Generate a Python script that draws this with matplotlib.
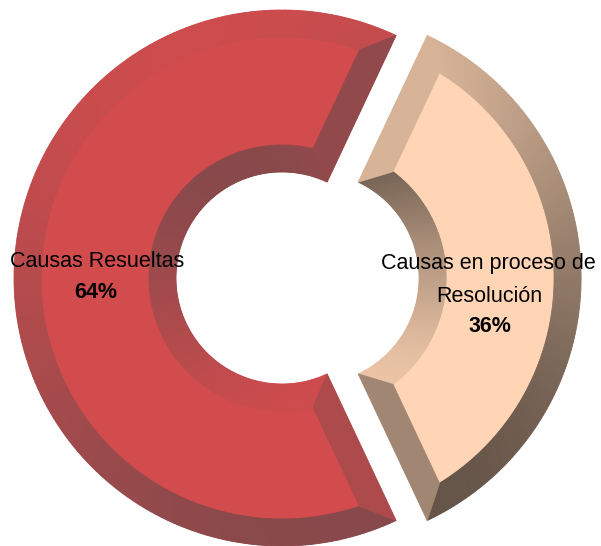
import numpy as np
import matplotlib
matplotlib.use("Agg")
import matplotlib.pyplot as plt
from matplotlib.patches import Polygon
from matplotlib import font_manager

# ---- data ----
categories = ["Causas Resueltas", "Causas en proceso de\nResolución"]
values = [64, 36]
pct_labels = ["64%", "36%"]
face_colors = ["#D24B4D", "#FFD5B5"]
light_colors = [(205, 76, 77), (235, 196, 166)]
dark_colors = [(135, 73, 75), (100, 84, 72)]
explode = [0.0, 0.116]

W, H = 601, 546
PX = 268.0              # pixels per unit radius
CXP, CYP = 282, 278     # pie centre in pixels (from top-left)
hole = 106 / PX
bevel = 27 / PX
light_dir = np.deg2rad(110)

fig = plt.figure(figsize=(W / 100, H / 100), dpi=100)
ax = fig.add_axes([0, 0, 1, 1])

start = 360 * values[1] / sum(values) / 2
wedges, _ = ax.pie(values, colors=face_colors, startangle=start, counterclock=True,
                   explode=explode, radius=1.0, center=(0, 0),
                   wedgeprops=dict(width=1 - hole, linewidth=0))


def shade(i, n):
    t = (1 + np.cos(n - light_dir)) / 2
    lc = np.array(light_colors[i]) / 255
    dc = np.array(dark_colors[i]) / 255
    return tuple(dc + (lc - dc) * t)


def pt(c, ang, rad):
    return (c[0] + rad * np.cos(ang), c[1] + rad * np.sin(ang))


def add_poly(pts, col):
    ax.add_patch(Polygon(pts, closed=True, facecolor=col, edgecolor=col,
                         linewidth=0.6, zorder=3))


for i, w in enumerate(wedges):
    c = np.array(w.center)
    t1, t2 = np.deg2rad(w.theta1), np.deg2rad(w.theta2)
    ro = w.r
    ri = w.r - w.width
    ao = np.arcsin(bevel / (ro - bevel))
    ai = np.arcsin(bevel / (ri + bevel))
    N = 160
    s = np.linspace(0, 1, N + 1)
    # outer band
    oa = t1 + s * (t2 - t1)
    ia = (t1 + ao) + s * ((t2 - ao) - (t1 + ao))
    for k in range(N):
        n = 0.5 * (oa[k] + oa[k + 1])
        add_poly([pt(c, oa[k], ro), pt(c, oa[k + 1], ro),
                  pt(c, ia[k + 1], ro - bevel), pt(c, ia[k], ro - bevel)], shade(i, n))
    # inner band
    oa2 = (t1 + ai) + s * ((t2 - ai) - (t1 + ai))
    ia2 = t1 + s * (t2 - t1)
    for k in range(N):
        n = 0.5 * (ia2[k] + ia2[k + 1]) + np.pi
        add_poly([pt(c, oa2[k], ri + bevel), pt(c, oa2[k + 1], ri + bevel),
                  pt(c, ia2[k + 1], ri), pt(c, ia2[k], ri)], shade(i, n))
    # side bands
    add_poly([pt(c, t1, ro), pt(c, t1 + ao, ro - bevel),
              pt(c, t1 + ai, ri + bevel), pt(c, t1, ri)], shade(i, t1 - np.pi / 2))
    add_poly([pt(c, t2, ro), pt(c, t2 - ao, ro - bevel),
              pt(c, t2 - ai, ri + bevel), pt(c, t2, ri)], shade(i, t2 + np.pi / 2))

ax.set_xlim(-CXP / PX, (W - CXP) / PX)
ax.set_ylim(-(H - CYP) / PX, CYP / PX)
ax.set_aspect("auto")
ax.axis("off")

# ---- labels ----
names = {f.name for f in font_manager.fontManager.ttflist}
if "Liberation Sans Narrow" in names:
    fam, fs = ["Liberation Sans Narrow", "DejaVu Sans"], 18.5
else:
    fam, fs = ["Liberation Sans", "DejaVu Sans"], 15.5


def ftext(px, py, s, bold=False):
    fig.text(px / W, 1 - py / H, s, ha="center", va="baseline", fontsize=fs,
             family=fam, fontweight="bold" if bold else "normal", color="black",
             zorder=5)


left_lines = categories[0].split("\n")
ftext(97, 267, left_lines[0])
ftext(96, 298, pct_labels[0], bold=True)

right_lines = categories[1].split("\n")
ftext(488, 269, right_lines[0])
ftext(489, 302, right_lines[1])
ftext(490, 332, pct_labels[1], bold=True)

fig.savefig("out.png", dpi=100)
